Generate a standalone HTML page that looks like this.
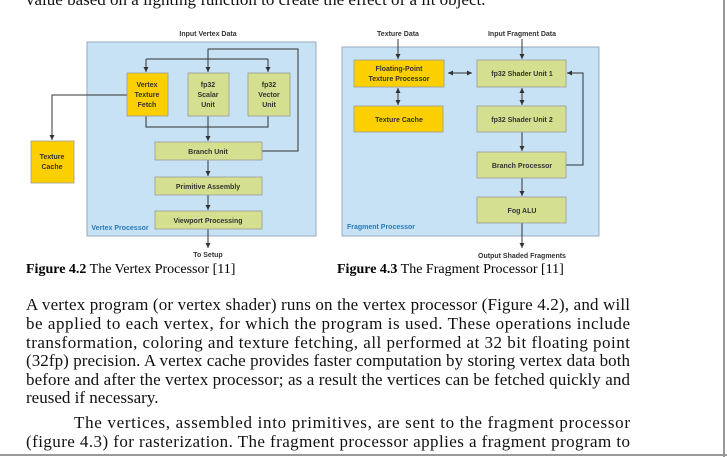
<!DOCTYPE html>
<html><head><meta charset="utf-8"><style>
body{margin:0;background:#fff;width:727px;height:457px;overflow:hidden}
svg{display:block}
.s{font-family:"Liberation Sans",sans-serif;font-size:7px;font-weight:bold;fill:#333;text-anchor:middle}
.p{font-family:"Liberation Serif",serif;font-size:17px;fill:#111}
</style></head><body>
<svg width="727" height="457" viewBox="0 0 727 457">
<defs><marker id="a" markerWidth="6" markerHeight="6" refX="5" refY="3" orient="auto"><path d="M0,0.5 L5,3 L0,5.5z" fill="#333"/></marker></defs>
<rect x="0" y="0" width="727" height="457" fill="#fff"/>
<line x1="724" y1="0" x2="724" y2="457" stroke="#999" stroke-width="2"/>
<line x1="0" y1="455" x2="727" y2="455" stroke="#999" stroke-width="2"/>
<text class="p" x="26" y="5">value based on a lighting function to create the effect of a lit object.</text>
<rect x="87" y="42" width="229" height="194" fill="#c6e2f4" stroke="#9ab" stroke-width="1"/>
<text class="s" x="208" y="36">Input Vertex Data</text>
<g fill="none" stroke="#333" stroke-width="1">
<polyline points="262,151 298,151 298,49 208,49 208,72" marker-end="url(#a)"/>
<polyline points="146,59 268,59"/>
<line x1="146" y1="59" x2="146" y2="72" marker-end="url(#a)"/>
<line x1="268" y1="59" x2="268" y2="72" marker-end="url(#a)"/>
<polyline points="146,116 146,127 268,127 268,116"/>
<line x1="208" y1="116" x2="208" y2="141" marker-end="url(#a)"/>
<polyline points="127,95 52,95 52,140" marker-end="url(#a)"/>
<line x1="208" y1="160" x2="208" y2="176" marker-end="url(#a)"/>
<line x1="208" y1="195" x2="208" y2="210" marker-end="url(#a)"/>
<line x1="208" y1="229" x2="208" y2="248" marker-end="url(#a)"/>
</g>
<g stroke="#999" stroke-width="0.8">
<rect x="127" y="73" width="41" height="43" fill="#fcd000"/>
<rect x="188" y="73" width="41" height="43" fill="#d4e090"/>
<rect x="248" y="73" width="42" height="43" fill="#d4e090"/>
<rect x="155" y="142" width="107" height="18" fill="#d4e090"/>
<rect x="155" y="177" width="107" height="18" fill="#d4e090"/>
<rect x="155" y="211" width="107" height="18" fill="#d4e090"/>
<rect x="31" y="141" width="43" height="42" fill="#fcd000"/>
</g>
<text class="s"><tspan x="147" y="87">Vertex</tspan><tspan x="147" y="97">Texture</tspan><tspan x="147" y="107">Fetch</tspan></text>
<text class="s"><tspan x="208" y="87">fp32</tspan><tspan x="208" y="97">Scalar</tspan><tspan x="208" y="107">Unit</tspan></text>
<text class="s"><tspan x="269" y="87">fp32</tspan><tspan x="269" y="97">Vector</tspan><tspan x="269" y="107">Unit</tspan></text>
<text class="s" x="208" y="154">Branch Unit</text>
<text class="s" x="208" y="189">Primitive Assembly</text>
<text class="s" x="208" y="223">Viewport Processing</text>
<text class="s"><tspan x="52" y="159">Texture</tspan><tspan x="52" y="169">Cache</tspan></text>
<text class="s" x="120" y="230" style="fill:#2a7ab8">Vertex Processor</text>
<text class="s" x="208" y="257">To Setup</text>
<text x="26" y="273" style="font-family:'Liberation Serif',serif;font-size:14px"><tspan font-weight="bold">Figure 4.2</tspan> The Vertex Processor [11]</text>
<rect x="342" y="47" width="257" height="189" fill="#c6e2f4" stroke="#9ab"/>
<text class="s" x="398" y="36">Texture Data</text>
<text class="s" x="522" y="36">Input Fragment Data</text>
<g fill="none" stroke="#333" stroke-width="1">
<line x1="398" y1="39" x2="398" y2="59" marker-end="url(#a)"/>
<line x1="522" y1="39" x2="522" y2="59" marker-end="url(#a)"/>
<line x1="450" y1="73" x2="472" y2="73" marker-end="url(#a)"/>
<line x1="470" y1="73" x2="448" y2="73" marker-end="url(#a)"/>
<line x1="398" y1="89" x2="398" y2="105" marker-end="url(#a)"/>
<line x1="398" y1="103" x2="398" y2="88" marker-end="url(#a)"/>
<line x1="522" y1="89" x2="522" y2="105" marker-end="url(#a)"/>
<line x1="522" y1="103" x2="522" y2="88" marker-end="url(#a)"/>
<line x1="522" y1="132" x2="522" y2="151" marker-end="url(#a)"/>
<line x1="522" y1="178" x2="522" y2="196" marker-end="url(#a)"/>
<line x1="522" y1="223" x2="522" y2="248" marker-end="url(#a)"/>
<polyline points="566,165 583,165 583,73 567,73" marker-end="url(#a)"/>
</g>
<g stroke="#999" stroke-width="0.8">
<rect x="354" y="60" width="90" height="27" fill="#fcd000"/>
<rect x="354" y="106" width="89" height="26" fill="#fcd000"/>
<rect x="477" y="60" width="89" height="27" fill="#d4e090"/>
<rect x="477" y="106" width="89" height="26" fill="#d4e090"/>
<rect x="477" y="152" width="89" height="26" fill="#d4e090"/>
<rect x="477" y="197" width="89" height="26" fill="#d4e090"/>
</g>
<text class="s"><tspan x="399" y="71">Floating-Point</tspan><tspan x="399" y="81">Texture Processor</tspan></text>
<text class="s" x="399" y="122">Texture Cache</text>
<text class="s" x="522" y="76">fp32 Shader Unit 1</text>
<text class="s" x="522" y="122">fp32 Shader Unit 2</text>
<text class="s" x="522" y="168">Branch Processor</text>
<text class="s" x="522" y="213">Fog ALU</text>
<text class="s" x="381" y="229" style="fill:#2a7ab8">Fragment Processor</text>
<text class="s" x="522" y="258">Output Shaded Fragments</text>
<text x="337" y="273" style="font-family:'Liberation Serif',serif;font-size:14px"><tspan font-weight="bold">Figure 4.3</tspan> The Fragment Processor [11]</text>
<text class="p" x="26" y="310" textLength="604" lengthAdjust="spacing">A vertex program (or vertex shader) runs on the vertex processor (Figure 4.2), and will</text>
<text class="p" x="26" y="329" textLength="604" lengthAdjust="spacing">be applied to each vertex, for which the program is used. These operations include</text>
<text class="p" x="26" y="348" textLength="604" lengthAdjust="spacing">transformation, coloring and texture fetching, all performed at 32 bit floating point</text>
<text class="p" x="26" y="366" textLength="604" lengthAdjust="spacing">(32fp) precision. A vertex cache provides faster computation by storing vertex data both</text>
<text class="p" x="26" y="385" textLength="604" lengthAdjust="spacing">before and after the vertex processor; as a result the vertices can be fetched quickly and</text>
<text class="p" x="26" y="403">reused if necessary.</text>
<text class="p" x="74" y="428" textLength="556" lengthAdjust="spacing">The vertices, assembled into primitives, are sent to the fragment processor</text>
<text class="p" x="26" y="447" textLength="604" lengthAdjust="spacing">(figure 4.3) for rasterization. The fragment processor applies a fragment program to</text>
</svg>
</body></html>
